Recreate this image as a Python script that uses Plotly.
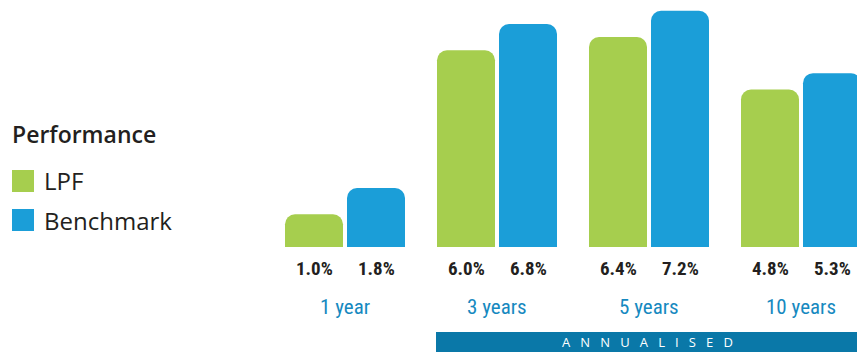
import plotly.graph_objects as go

categories = ["1 year", "3 years", "5 years", "10 years"]
series_names = ["LPF", "Benchmark"]
lpf_values = [1.0, 6.0, 6.4, 4.8]
benchmark_values = [1.8, 6.8, 7.2, 5.3]
lpf_labels = ["1.0%", "6.0%", "6.4%", "4.8%"]
benchmark_labels = ["1.8%", "6.8%", "7.2%", "5.3%"]
legend_title = "Performance"
band_word = "ANNUALISED"

GREEN = "#a6ce4e"
BLUE = "#1b9ed8"
LABEL_BLUE = "#1689c0"
BAND = "#0a78a8"
DARK = "#231f20"
NARROW = "Roboto Condensed, Liberation Sans Narrow, DejaVu Sans Condensed, Roboto, sans-serif"

W, H = 857, 352
ML, MT, MB = 260, 0, 105
PX_PER_UNIT = 152.0
CENTER0 = 345.0
plot_w = W - ML
x_lo = (ML - CENTER0) / PX_PER_UNIT
x_hi = (W - CENTER0) / PX_PER_UNIT
plot_h = H - MT - MB
PX_PER_PCT = 32.8
y_hi = plot_h / PX_PER_PCT

bw = 58 / PX_PER_UNIT
off_l = -60 / PX_PER_UNIT
off_b = 2 / PX_PER_UNIT
xs = list(range(len(categories)))

fig = go.Figure()
fig.add_trace(go.Bar(x=xs, y=lpf_values, name=series_names[0], width=bw, offset=off_l,
                     marker=dict(color=GREEN, line=dict(width=0), cornerradius=10),
                     showlegend=False, hoverinfo="skip"))
fig.add_trace(go.Bar(x=xs, y=benchmark_values, name=series_names[1], width=bw, offset=off_b,
                     marker=dict(color=BLUE, line=dict(width=0), cornerradius=10),
                     showlegend=False, hoverinfo="skip"))

annotations = []
label_font = dict(family=NARROW, size=19, color=DARK, weight="bold")
for i in xs:
    annotations.append(dict(x=i + off_l + bw / 2, y=0, xref="x", yref="y", text=lpf_labels[i],
                            showarrow=False, yanchor="middle", yshift=-21, font=label_font))
    annotations.append(dict(x=i + off_b + bw / 2, y=0, xref="x", yref="y", text=benchmark_labels[i],
                            showarrow=False, yanchor="middle", yshift=-21, font=label_font))
    annotations.append(dict(x=i, y=0, xref="x", yref="y", text=categories[i], showarrow=False,
                            yanchor="middle", yshift=-60,
                            font=dict(family=NARROW, size=21, color=LABEL_BLUE)))

def px_to_paper_x(px):
    return (px - ML) / plot_w

def px_to_paper_y(py):
    return (H - MB - py) / plot_h

annotations.append(dict(x=px_to_paper_x(10), y=px_to_paper_y(134), xref="paper", yref="paper",
                        xanchor="left", yanchor="middle", showarrow=False, text=legend_title,
                        font=dict(family="Open Sans, sans-serif", size=23, color=DARK, weight=600)))
shapes = []
legend_colors = [GREEN, BLUE]
legend_y = [181, 220]
for name, col, cy in zip(series_names, legend_colors, legend_y):
    shapes.append(dict(type="rect", xref="paper", yref="paper",
                       x0=px_to_paper_x(12), x1=px_to_paper_x(34),
                       y0=px_to_paper_y(cy + 11), y1=px_to_paper_y(cy - 11),
                       fillcolor=col, line=dict(width=0), layer="above"))
    annotations.append(dict(x=px_to_paper_x(42), y=px_to_paper_y(cy), xref="paper", yref="paper",
                            xanchor="left", yanchor="middle", showarrow=False, text=name,
                            font=dict(family="Open Sans, sans-serif", size=24, color=DARK)))

shapes.append(dict(type="rect", xref="paper", yref="paper",
                   x0=px_to_paper_x(436), x1=1.0,
                   y0=px_to_paper_y(352), y1=px_to_paper_y(332),
                   fillcolor=BAND, line=dict(width=0), layer="above"))
band_text = "\u00a0\u00a0\u00a0".join(band_word)
annotations.append(dict(x=px_to_paper_x(647), y=px_to_paper_y(342), xref="paper", yref="paper",
                        xanchor="center", yanchor="middle", showarrow=False, text=band_text,
                        font=dict(family="Open Sans, sans-serif", size=13, color="white")))

fig.update_layout(
    width=W, height=H,
    margin=dict(l=ML, r=0, t=MT, b=MB),
    paper_bgcolor="white", plot_bgcolor="white",
    barmode="overlay",
    xaxis=dict(range=[x_lo, x_hi], showgrid=False, zeroline=False, showticklabels=False,
               showline=False, ticks="", fixedrange=True),
    yaxis=dict(range=[0, y_hi], showgrid=False, zeroline=False, showticklabels=False,
               showline=False, ticks="", fixedrange=True),
    annotations=annotations,
    shapes=shapes,
    showlegend=False,
)

fig.write_html("out.html", config={"displayModeBar": False})
